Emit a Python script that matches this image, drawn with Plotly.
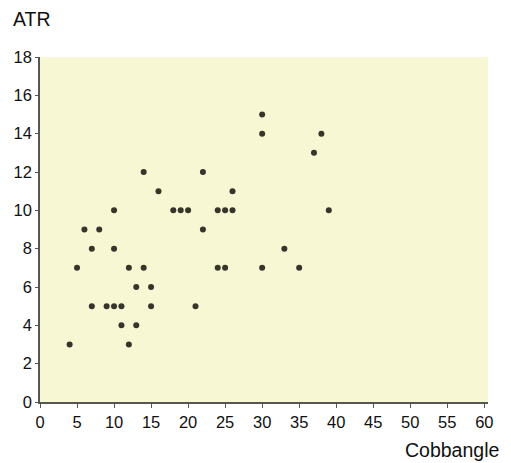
import plotly.graph_objects as go

cobb_angle = [4, 5, 6, 7, 7, 8, 9, 10, 10, 10, 11, 11, 12, 12, 13, 13, 14, 14, 15, 15,
              16, 18, 19, 20, 21, 22, 22, 24, 24, 25, 25, 26, 26, 30, 30, 30, 33, 35,
              37, 38, 39]
atr = [3, 7, 9, 8, 5, 9, 5, 10, 8, 5, 5, 4, 7, 3, 6, 4, 12, 7, 6, 5,
       11, 10, 10, 10, 5, 12, 9, 10, 7, 10, 7, 10, 11, 15, 14, 7, 8, 7,
       13, 14, 10]
x_ticks = [0, 5, 10, 15, 20, 25, 30, 35, 40, 45, 50, 55, 60]
y_ticks = [0, 2, 4, 6, 8, 10, 12, 14, 16, 18]

fig = go.Figure(go.Scatter(
    x=cobb_angle, y=atr, mode="markers",
    marker=dict(size=6, color="#35352a"),
    hoverinfo="x+y",
))

family = "Liberation Sans, Arial, sans-serif"
tick_font = dict(family=family, size=16.5, color="#111111")
label_font = dict(family=family, size=19.5, color="#111111")

fig.update_layout(
    width=511, height=463,
    margin=dict(l=40, r=23, t=57, b=61),
    paper_bgcolor="white",
    plot_bgcolor="#f8f7d3",
    showlegend=False,
    font=tick_font,
    xaxis=dict(range=[0, 60.5], tickvals=x_ticks, showgrid=False, zeroline=False,
               showline=True, linecolor="#555555", linewidth=1.5,
               ticks="outside", ticklen=4, tickcolor="#555555", tickfont=tick_font),
    yaxis=dict(range=[0, 18], tickvals=y_ticks, showgrid=False, zeroline=False,
               showline=True, linecolor="#555555", linewidth=1.5,
               ticks="outside", ticklen=3, tickcolor="#555555", tickfont=tick_font),
    annotations=[
        dict(text="ATR", xref="paper", yref="paper", x=-0.065, y=1.111,
             xanchor="left", yanchor="middle", showarrow=False, font=label_font),
        dict(text="Cobbangle", xref="paper", yref="paper", x=1.03, y=-0.14,
             xanchor="right", yanchor="middle", showarrow=False, font=label_font),
    ],
)

fig.write_html("out.html", config={"displayModeBar": False},
               post_script="document.body.style.margin='0';document.body.style.overflow='hidden';")
